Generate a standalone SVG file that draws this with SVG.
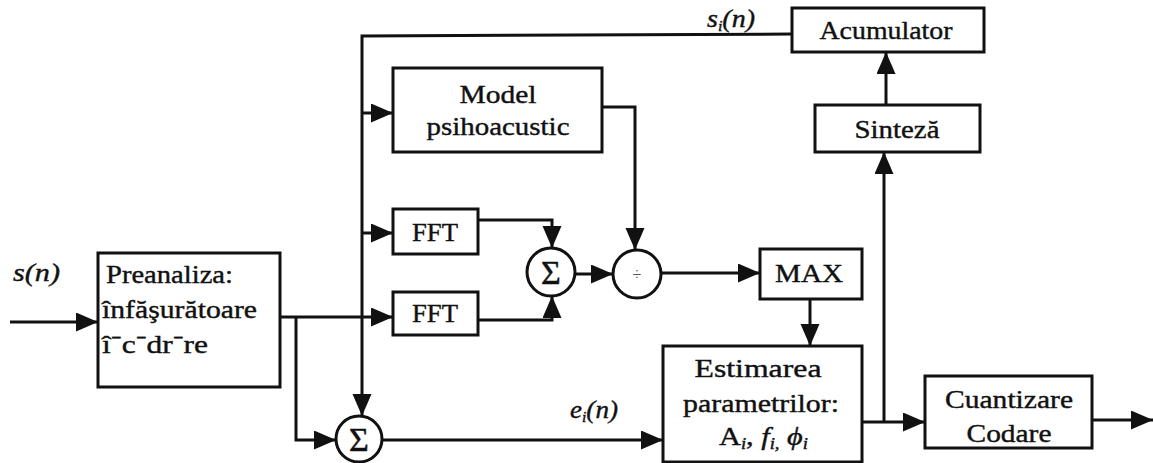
<svg xmlns="http://www.w3.org/2000/svg" width="1153" height="463" viewBox="0 0 1153 463">
<defs>
<marker id="ah" markerUnits="userSpaceOnUse" markerWidth="24" markerHeight="20" refX="22" refY="9.5" orient="auto">
<path d="M0,0 L22,9.5 L0,19 z" fill="#111"/>
</marker>
<style>
.box{fill:#fff;stroke:#111;stroke-width:3}
.circ{fill:#fff;stroke:#111;stroke-width:3}
.ln{fill:none;stroke:#111;stroke-width:3}
.ar{fill:none;stroke:#111;stroke-width:3;marker-end:url(#ah)}
.t{font-family:"Liberation Serif","Times New Roman",serif;font-size:26px;fill:#111;stroke:#111;stroke-width:0.4}
.c{text-anchor:middle}
.it{font-style:italic}
.sig{font-family:"Liberation Serif",serif;font-size:34px;fill:#111;stroke:#111;stroke-width:0.5;text-anchor:middle}
</style>
</defs>
<rect width="1153" height="463" fill="#fff"/>

<g id="connectors">
<path class="ar" d="M10,322 H98"/>
<path class="ar" d="M280,317 H393"/>
<path class="ar" d="M296,317 V440 H336"/>
<path class="ar" d="M792,34 L362,36 V416"/>
<path class="ar" d="M362,113 H393"/>
<path class="ar" d="M362,233 H393"/>
<path class="ar" d="M478,220 H552 V248"/>
<path class="ar" d="M478,320 H552 V296"/>
<path class="ar" d="M575,274 H613"/>
<path class="ar" d="M602,107 H635 V250"/>
<path class="ar" d="M661,273 H760"/>
<path class="ar" d="M810,299 V346"/>
<path class="ar" d="M382,440 H663"/>
<path class="ar" d="M862,422 H925"/>
<path class="ar" d="M884,422 V152"/>
<path class="ar" d="M886,105 V52"/>
<path class="ar" d="M1092,420 H1153"/>
</g>

<g id="labels">
<text class="t it" x="13" y="281" font-size="23" textLength="47" lengthAdjust="spacingAndGlyphs">s(n)</text>
<text class="t it" x="707" y="27" font-size="23" textLength="48" lengthAdjust="spacingAndGlyphs">s<tspan font-size="15" dy="4">i</tspan><tspan dy="-4">(n)</tspan></text>
<text class="t it" x="570" y="418" font-size="23" textLength="48" lengthAdjust="spacingAndGlyphs">e<tspan font-size="15" dy="4">i</tspan><tspan dy="-4">(n)</tspan></text>
</g>

<g id="preanaliza">
<rect class="box" x="98" y="253" width="182" height="134"/>
<text class="t" x="106" y="283" textLength="127" lengthAdjust="spacingAndGlyphs">Preanaliza:</text>
<text class="t" x="102" y="318" textLength="155" lengthAdjust="spacingAndGlyphs">înfăşurătoare</text>
<text class="t" x="102" y="353" textLength="106" lengthAdjust="spacingAndGlyphs">î⁻c⁻dr⁻re</text>
</g>

<g id="model">
<rect class="box" x="393" y="68" width="209" height="84"/>
<text class="t c" x="498" y="103" textLength="77" lengthAdjust="spacingAndGlyphs">Model</text>
<text class="t c" x="498" y="135" textLength="143" lengthAdjust="spacingAndGlyphs">psihoacustic</text>
</g>

<g id="fft1">
<rect class="box" x="393" y="209" width="85" height="45"/>
<text class="t c" x="435" y="241" textLength="46" lengthAdjust="spacingAndGlyphs">FFT</text>
</g>

<g id="fft2">
<rect class="box" x="393" y="292" width="85" height="43"/>
<text class="t c" x="435" y="322" textLength="46" lengthAdjust="spacingAndGlyphs">FFT</text>
</g>

<g id="sum1">
<circle class="circ" cx="551" cy="272" r="24"/>
<text class="sig" x="551" y="284">Σ</text>
</g>

<g id="div">
<circle class="circ" cx="637" cy="274" r="24"/>
<text class="c" x="637" y="280" font-family="Liberation Serif, serif" font-size="16" fill="#555">÷</text>
</g>

<g id="sum2">
<circle class="circ" cx="359" cy="439" r="23"/>
<text class="sig" x="359" y="451">Σ</text>
</g>

<g id="max">
<rect class="box" x="760" y="249" width="102" height="50"/>
<text class="t c" x="809" y="282" textLength="68" lengthAdjust="spacingAndGlyphs">MAX</text>
</g>

<g id="estimare">
<rect class="box" x="663" y="346" width="199" height="116"/>
<text class="t c" x="758" y="377" textLength="127" lengthAdjust="spacingAndGlyphs">Estimarea</text>
<text class="t c" x="761" y="412" textLength="156" lengthAdjust="spacingAndGlyphs">parametrilor:</text>
<text class="t" x="719" y="445" textLength="89" lengthAdjust="spacingAndGlyphs">A<tspan class="it" font-size="16" dy="4">i</tspan><tspan dy="-4">, </tspan><tspan class="it">f</tspan><tspan class="it" font-size="16" dy="4">i,</tspan><tspan dy="-4"> </tspan><tspan class="it">ϕ</tspan><tspan class="it" font-size="16" dy="4">i</tspan></text>
</g>

<g id="cuantizare">
<rect class="box" x="925" y="376" width="167" height="72"/>
<text class="t c" x="1009" y="408" textLength="128" lengthAdjust="spacingAndGlyphs">Cuantizare</text>
<text class="t c" x="1009" y="442" textLength="85" lengthAdjust="spacingAndGlyphs">Codare</text>
</g>

<g id="sinteza">
<rect class="box" x="815" y="105" width="165" height="47"/>
<text class="t c" x="897" y="138" textLength="85" lengthAdjust="spacingAndGlyphs">Sinteză</text>
</g>

<g id="acumulator">
<rect class="box" x="792" y="8" width="192" height="44"/>
<text class="t c" x="886" y="39" textLength="133" lengthAdjust="spacingAndGlyphs">Acumulator</text>
</g>
</svg>
